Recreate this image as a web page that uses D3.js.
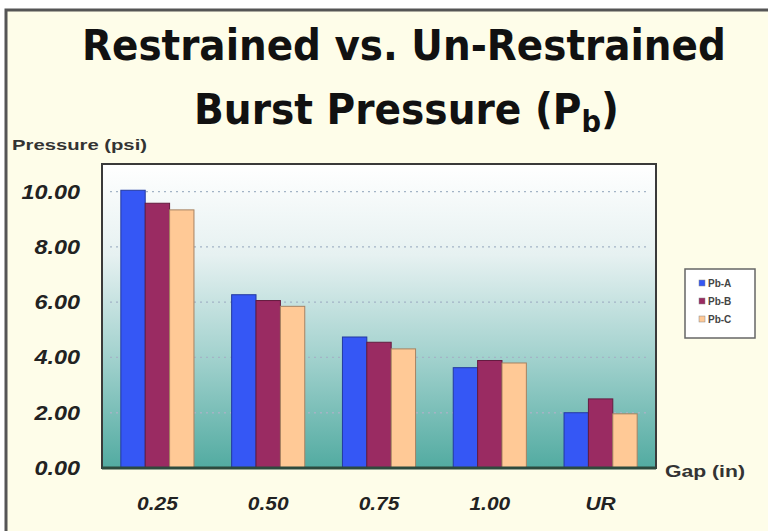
<!DOCTYPE html>
<html><head><meta charset="utf-8">
<script src="https://cdn.jsdelivr.net/npm/d3@7"></script>
<style>body{margin:0;background:#fff}svg{display:block}</style>
</head><body>
<svg id="c" width="768" height="531"></svg>
<script>
const categories = ["0.25","0.50","0.75","1.00","UR"];
const seriesNames = ["Pb-A","Pb-B","Pb-C"];
const pbA = [10.05, 6.27, 4.74, 3.63, 2.00];
const pbB = [9.58, 6.06, 4.55, 3.89, 2.50];
const pbC = [9.34, 5.85, 4.31, 3.80, 1.96];
const yTicks = [0, 2, 4, 6, 8, 10];
const colors = ["#3557f5", "#9a2b62", "#ffc996"];

const series = [pbA, pbB, pbC];
const svg = d3.select("#c");
const W = 768, H = 531;
const m = {l:102, r:656, t:164, b:468};
const FONT = "Liberation Sans, Arial, sans-serif";

// outer frame
svg.append("rect").attr("x",0).attr("y",0).attr("width",W).attr("height",H).attr("fill","#ffffff");
svg.append("rect").attr("x",6).attr("y",10).attr("width",W).attr("height",H).attr("fill","#fefde9")
  .attr("stroke","#555").attr("stroke-width",3);

const defs = svg.append("defs");
const g = defs.append("linearGradient").attr("id","bg").attr("x1",0).attr("y1",0).attr("x2",0).attr("y2",1);
g.append("stop").attr("offset","0%").attr("stop-color","#ffffff");
g.append("stop").attr("offset","30%").attr("stop-color","#e6f1f1");
g.append("stop").attr("offset","65%").attr("stop-color","#9fd0cc");
g.append("stop").attr("offset","100%").attr("stop-color","#52aba1");

const x0 = d3.scaleBand().domain(categories).range([m.l, m.r]).paddingInner(0.34).paddingOuter(0.17);
const x1 = d3.scaleBand().domain(seriesNames).range([0, x0.bandwidth()]);
const y = d3.scaleLinear().domain([0, 11]).range([m.b, m.t]);

svg.append("rect").attr("x",m.l).attr("y",m.t).attr("width",m.r-m.l).attr("height",m.b-m.t)
  .attr("fill","url(#bg)");

// gridlines
svg.append("g").selectAll("line").data(yTicks.filter(d=>d>0)).join("line")
  .attr("x1",m.l+8).attr("x2",m.r-8).attr("y1",d=>y(d)).attr("y2",d=>y(d))
  .attr("stroke","#a3b4c6").attr("stroke-width",1.3).attr("stroke-dasharray","2,4");

// bars
const grp = svg.append("g").selectAll("g").data(categories).join("g")
  .attr("transform", d=>`translate(${x0(d)},0)`);
grp.selectAll("rect").data((c,i)=>seriesNames.map((s,j)=>({s, v:series[j][i], j}))).join("rect")
  .attr("x", d=>x1(d.s)).attr("width", x1.bandwidth())
  .attr("y", d=>y(d.v)).attr("height", d=>y(0)-y(d.v))
  .attr("fill", d=>colors[d.j]).attr("stroke", d=>d3.color(colors[d.j]).darker(1.2)).attr("stroke-width",1);

// plot frame
svg.append("rect").attr("x",m.l).attr("y",m.t).attr("width",m.r-m.l).attr("height",m.b-m.t)
  .attr("fill","none").attr("stroke","#3a3a3a").attr("stroke-width",2);
svg.append("line").attr("x1",m.l).attr("x2",m.r).attr("y1",m.b).attr("y2",m.b)
  .attr("stroke","#2d4a3e").attr("stroke-width",3);

function widen(sel, f) {
  sel.each(function(){ const w = this.getComputedTextLength(); d3.select(this).attr("textLength", w*f).attr("lengthAdjust","spacingAndGlyphs"); });
}

// y axis labels
const yAxis = d3.axisLeft(y).tickValues(yTicks).tickFormat(d3.format(".2f")).tickSize(0).tickPadding(22);
const ya = svg.append("g").attr("transform",`translate(${m.l},0)`).call(yAxis);
ya.select(".domain").remove();
ya.selectAll("text").attr("font-family",FONT).attr("font-weight","bold")
  .attr("font-style","italic").attr("font-size",20).attr("fill","#222").call(widen, 1.17);

// x axis labels
const xAxis = d3.axisBottom(x0).tickSize(0).tickPadding(29);
const xa = svg.append("g").attr("transform",`translate(0,${m.b})`).call(xAxis);
xa.select(".domain").remove();
xa.selectAll("text").attr("font-family",FONT).attr("font-weight","bold")
  .attr("font-style","italic").attr("font-size",19).attr("fill","#222").call(widen, 1.1);

// title: fit each line into its measured span
function fitLine(sel, x0p, x1p) {
  const bb = sel.node().getBBox();
  const sx = (x1p - x0p) / bb.width;
  sel.attr("transform", `translate(${x0p},0) scale(${sx},1) translate(${-bb.x},0)`);
}
const title = svg.append("g").attr("font-family","DejaVu Sans Condensed, DejaVu Sans, sans-serif")
  .attr("font-weight","bold").attr("fill","#111");
const t1 = title.append("text").attr("x",0).attr("y",60).attr("font-size",43).text("Restrained vs. Un-Restrained");
fitLine(t1, 82, 726);
const t2 = title.append("text").attr("x",0).attr("y",124).attr("font-size",43);
t2.append("tspan").text("Burst Pressure (P");
t2.append("tspan").attr("font-size",30).attr("dy",8).text("b");
t2.append("tspan").attr("dy",-8).text(")");
fitLine(t2, 194, 619);

// axis titles
svg.append("text").attr("x",12).attr("y",150).attr("font-family",FONT).attr("font-weight","bold")
  .attr("font-size",15).attr("fill","#333").attr("textLength",135).attr("lengthAdjust","spacingAndGlyphs")
  .text("Pressure (psi)");
svg.append("text").attr("x",665).attr("y",477).attr("font-family",FONT).attr("font-weight","bold")
  .attr("font-size",17).attr("fill","#333").attr("textLength",80).attr("lengthAdjust","spacingAndGlyphs")
  .text("Gap (in)");

// legend
const lg = svg.append("g").attr("transform","translate(685,269)");
lg.append("rect").attr("width",70).attr("height",69).attr("fill","#ffffff").attr("stroke","#666").attr("stroke-width",1.5);
const li = lg.selectAll("g").data(seriesNames).join("g").attr("transform",(d,i)=>`translate(14,${15+i*18})`);
li.append("rect").attr("x",0).attr("y",-4).attr("width",6).attr("height",6)
  .attr("fill",(d,i)=>colors[i]).attr("stroke","#888").attr("stroke-width",0.5);
li.append("text").attr("x",9).attr("y",3).attr("font-family",FONT).attr("font-weight","bold")
  .attr("font-size",10).attr("fill","#444").text(d=>d);
</script>
</body></html>
